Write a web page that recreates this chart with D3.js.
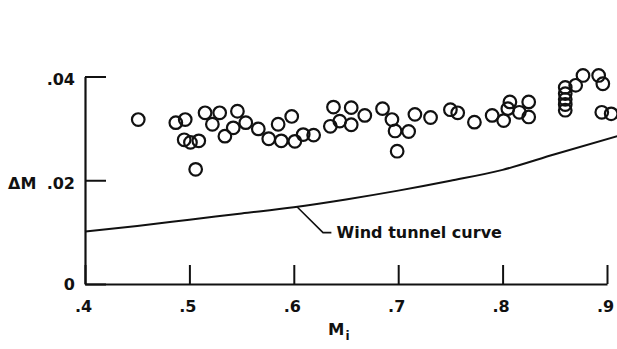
<!DOCTYPE html>
<html>
<head>
<meta charset="utf-8">
<script src="https://cdn.jsdelivr.net/npm/d3@7"></script>
<style>
  body { margin: 0; background: #fff; }
  svg { display: block; }
  text { font-family: "DejaVu Sans", "Liberation Sans", Arial, sans-serif; font-weight: bold; fill: #111; }
</style>
</head>
<body>
<script>
// flight data points (Mi, delta M)
var mi = [0.451, 0.487, 0.496, 0.495, 0.501, 0.509, 0.506, 0.515, 0.529, 0.522,
          0.546, 0.542, 0.534, 0.554, 0.566, 0.576, 0.585, 0.598, 0.588, 0.601,
          0.609, 0.619, 0.635, 0.638, 0.644, 0.655, 0.655, 0.668, 0.685, 0.694,
          0.697, 0.710, 0.699, 0.716, 0.731, 0.750, 0.757, 0.773, 0.790, 0.801,
          0.807, 0.805, 0.816, 0.825, 0.825, 0.860, 0.860, 0.860, 0.860, 0.860,
          0.870, 0.877, 0.892, 0.896, 0.895, 0.904];
var dm = [0.0317, 0.0311, 0.0317, 0.0278, 0.0273, 0.0276, 0.0221, 0.0330, 0.0330, 0.0308,
          0.0333, 0.0301, 0.0285, 0.0311, 0.0299, 0.0280, 0.0308, 0.0323, 0.0276, 0.0275,
          0.0288, 0.0287, 0.0304, 0.0341, 0.0314, 0.0340, 0.0307, 0.0325, 0.0338, 0.0317,
          0.0295, 0.0294, 0.0256, 0.0327, 0.0321, 0.0336, 0.0330, 0.0312, 0.0325, 0.0315,
          0.0351, 0.0338, 0.0331, 0.0351, 0.0322, 0.0379, 0.0367, 0.0356, 0.0346, 0.0335,
          0.0383, 0.0402, 0.0402, 0.0386, 0.0331, 0.0328];

// wind tunnel curve
var curveMi = [0.40, 0.45, 0.50, 0.55, 0.60, 0.65, 0.70, 0.75, 0.80, 0.85, 0.91];
var curveDm = [0.0101, 0.0112, 0.0124, 0.0136, 0.0148, 0.0163, 0.0180, 0.0199, 0.0220, 0.0250, 0.0285];

var xTicks = [0.4, 0.5, 0.6, 0.7, 0.8, 0.9];
var xTickLabels = [".4", ".5", ".6", ".7", ".8", ".9"];
var yTicks = [0, 0.02, 0.04];
var yTickLabels = ["0", ".02", ".04"];

var width = 617, height = 349;

var x = d3.scaleLinear().domain([0.4, 0.9]).range([85, 607]);
var y = d3.scaleLinear().domain([0, 0.04]).range([284, 76.5]);

var svg = d3.select("body").append("svg")
  .attr("width", width)
  .attr("height", height);

// eje x, ticks hacia adentro
var xAxis = svg.append("g")
  .attr("transform", "translate(0," + y(0) + ")")
  .call(d3.axisBottom(x)
    .tickValues(xTicks)
    .tickSizeInner(-19)
    .tickSizeOuter(0)
    .tickFormat((d, i) => xTickLabels[i]));

xAxis.select(".domain").attr("stroke", "#111").attr("stroke-width", 2.2);
xAxis.selectAll(".tick line").attr("stroke", "#111").attr("stroke-width", 2);
xAxis.selectAll(".tick text")
  .attr("y", 27.5)
  .attr("dy", 0)
  .attr("dx", -2)
  .attr("font-size", 16);

// eje y
var yAxis = svg.append("g")
  .attr("transform", "translate(" + x(0.4) + ",0)")
  .call(d3.axisLeft(y)
    .tickValues(yTicks)
    .tickSizeInner(-21)
    .tickSizeOuter(0)
    .tickFormat((d, i) => yTickLabels[i]));

yAxis.select(".domain").attr("stroke", "#111").attr("stroke-width", 2.2);
yAxis.selectAll(".tick line").attr("stroke", "#111").attr("stroke-width", 2);
yAxis.selectAll(".tick text")
  .attr("x", -10)
  .attr("dy", d => d === 0 ? 5.5 : 8)
  .attr("font-size", 16);

// titulos
svg.append("text")
  .attr("x", 8)
  .attr("y", y(0.02) + 8.5)
  .attr("font-size", 16)
  .text("\u0394M");

var mLabel = svg.append("text")
  .attr("x", 328)
  .attr("y", 335)
  .attr("font-size", 16.5);
mLabel.append("tspan").text("M");
mLabel.append("tspan").attr("font-size", 12).attr("dy", 5).attr("dx", 1).text("i");

// curva del tunel de viento
var curve = d3.line()
  .x((d, i) => x(curveMi[i]))
  .y((d, i) => y(curveDm[i]))
  .curve(d3.curveMonotoneX);

svg.append("path")
  .datum(curveMi)
  .attr("fill", "none")
  .attr("stroke", "#111")
  .attr("stroke-width", 2)
  .attr("d", curve);

// linea guia hacia la etiqueta
var leader = [[0.603, 0.0149], [0.628, 0.0099], [0.636, 0.0099]];
svg.append("path")
  .attr("fill", "none")
  .attr("stroke", "#111")
  .attr("stroke-width", 1.6)
  .attr("d", d3.line().x(d => x(d[0])).y(d => y(d[1]))(leader));

svg.append("text")
  .attr("x", x(0.641))
  .attr("y", y(0.0089))
  .attr("font-size", 16)
  .text("Wind tunnel curve");

// puntos
svg.append("g")
  .selectAll("circle")
  .data(mi)
  .join("circle")
    .attr("cx", d => x(d))
    .attr("cy", (d, i) => y(dm[i]))
    .attr("r", 6.3)
    .attr("fill", "none")
    .attr("stroke", "#111")
    .attr("stroke-width", 2.2);
</script>
</body>
</html>
